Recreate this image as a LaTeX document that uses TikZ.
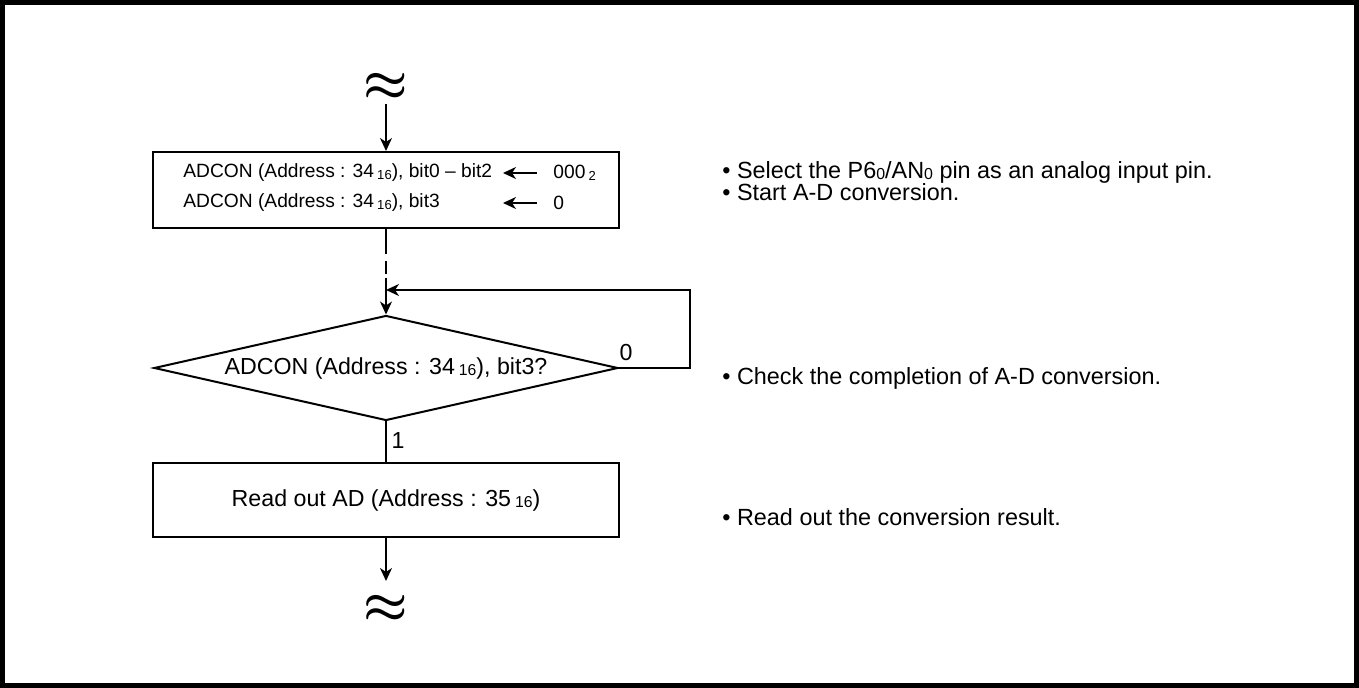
\documentclass[tikz,border=0pt]{standalone}
\usepackage{fontspec}
\setmainfont{Liberation Sans}
\usetikzlibrary{arrows.meta,shapes.geometric}
\newcommand\sbt[1]{\raisebox{-0.15ex}{\scalebox{0.68}{#1}}}
\newcommand\sbs[1]{\thinspace\sbt{#1}}

\begin{document}
\begin{tikzpicture}[x=0.5pt,y=-0.5pt,
    flow/.style={line width=0.75pt,-{Stealth[length=6.5pt,width=6pt,inset=2pt]}},
    plain/.style={line width=0.75pt},
    procbox/.style={draw,line width=1pt,minimum width=233pt,inner sep=0pt},
    txt/.style={inner sep=0pt,font=\fontsize{9.6}{11}\selectfont},
    note/.style={anchor=west,inner sep=0pt,font=\fontsize{11.7}{14}\selectfont},
    wave/.style={inner sep=0pt,font=\fontsize{23}{23}\selectfont\boldmath}]
  \useasboundingbox (0,0) rectangle (1359,688);
  \draw[line width=2.5pt] (2.5,2.5) rectangle (1356.5,685.5);

  % flow column
  \node[wave] (top) at (386,87) {$\approx$};
  \node[procbox,minimum height=38pt] (b1) at (386,190) {};
  \node[diamond,draw,line width=1pt,aspect=4.42,minimum width=232pt,minimum height=52.5pt,inner sep=0pt] (dia) at (386,368) {};
  \node[font=\fontsize{11.6}{13}\selectfont] at (dia.center) {ADCON (Address : 34\sbs{16}), bit3?};
  \node[procbox,minimum height=37pt,font=\fontsize{11.6}{13}\selectfont] (b2) at (386,500) {Read out AD (Address : 35\sbs{16})};
  \node[wave] (bot) at (386,609) {$\approx$};

  % box 1 contents
  \node[txt,anchor=west] (l1) at (183,173) {ADCON (Address : 34\sbs{16}), bit0 -- bit2};
  \node[txt,anchor=west] (l2) at (183,203) {ADCON (Address : 34\sbs{16}), bit3};
  \node[txt,anchor=west] (v1) at (553,173) {000\sbs{2}};
  \node[txt,anchor=west] (v2) at (553,203) {0};
  \foreach \r in {1,2}
    \draw[flow] (v\r.west) ++(-16,0) coordinate (s\r) -- ++(-34,0);

  % connectors
  \coordinate (d0) at (386,104);
  \draw[flow] (d0) -- (b1.north);
  \coordinate (brk) at (386,278);
  \draw[plain,dash pattern=on 12.5pt off 3.5pt on 6.5pt off 2.5pt] (b1.south) -- (brk);
  \draw[flow] (brk) -- (dia.north);
  \coordinate (join) at (386,290);
  \draw[flow] (dia.east) -- ++(71,0) |- (join);
  \draw[plain] (dia.south) -- (b2.north);
  \coordinate (d1) at (386,581);
  \draw[flow] (b2.south) -- (d1);
  \node[font=\fontsize{11.6}{13}\selectfont] (zero) at (626,353) {0};
  \node[font=\fontsize{11.6}{13}\selectfont] (one) at (398,441) {1};

  % notes
  \node[note] (n1) at (722,172) {\textbullet\ Select the P6\sbt{0}/AN\sbt{0} pin as an analog input pin.};
  \node[note] (n2) at (722,192) {\textbullet\ Start A-D conversion.};
  \node[note] (n3) at (722,378) {\textbullet\ Check the completion of A-D conversion.};
  \node[note] (n4) at (722,517) {\textbullet\ Read out the conversion result.};
\end{tikzpicture}
\end{document}
